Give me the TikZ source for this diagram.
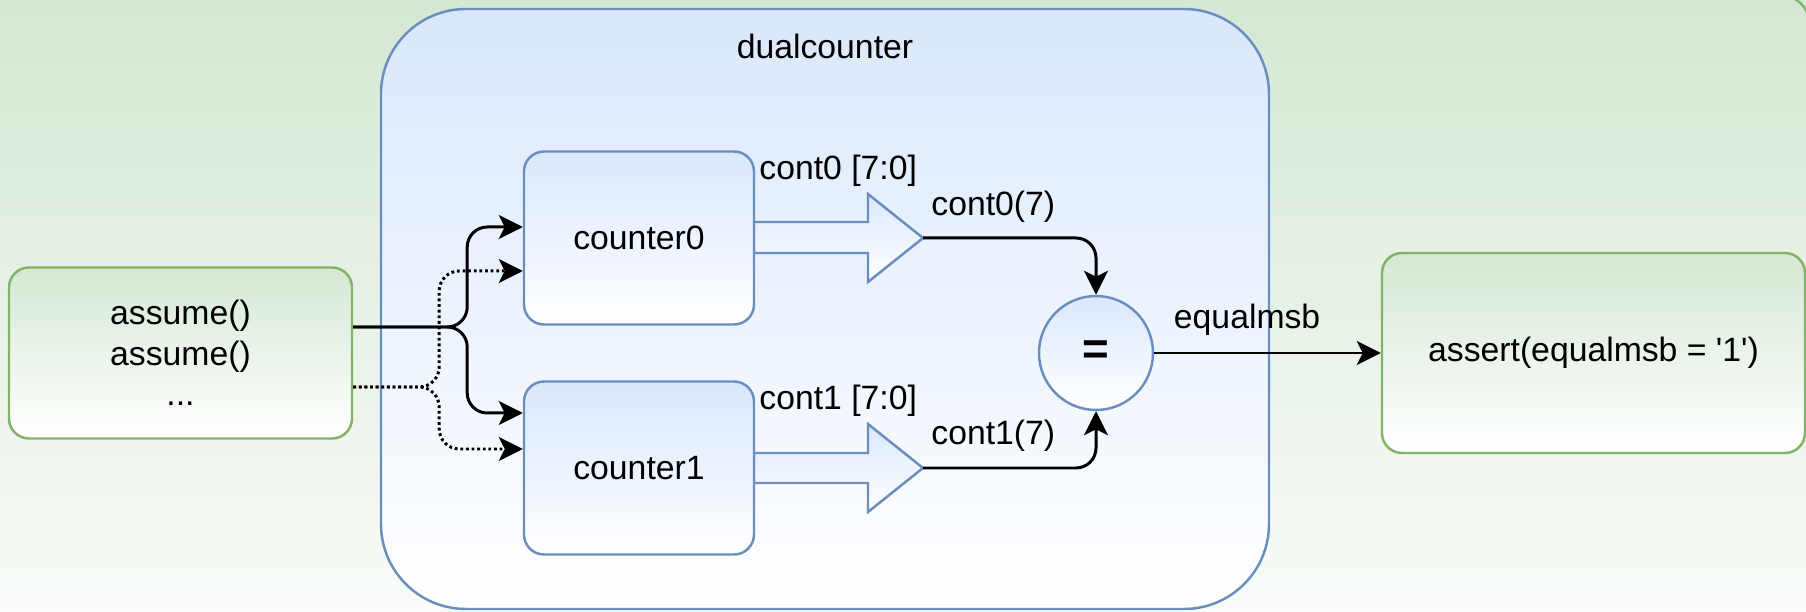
\documentclass[tikz,border=0pt]{standalone}
\usepackage{fontspec}
\setmainfont{Liberation Sans}
\usetikzlibrary{arrows.meta,positioning}
\definecolor{bluefill}{HTML}{DAE8FC}
\definecolor{bluedraw}{HTML}{6C8EBF}
\definecolor{greenfill}{HTML}{D5E8D4}
\definecolor{greendraw}{HTML}{82B366}
\begin{document}
\begin{tikzpicture}[font=\fontsize{9.6pt}{11.6pt}\selectfont,
  outline/.style={draw=#1,line width=0.7pt},
  bluebox/.style={outline=bluedraw,top color=bluefill,bottom color=white,rounded corners=0.2cm},
  greenbox/.style={outline=greendraw,top color=greenfill,bottom color=white,rounded corners=0.2cm},
  wire/.style={line width=0.85pt,rounded corners=0.2cm,-{Stealth[length=2.4mm,width=2.4mm,inset=0.6mm]}},
  dots/.style={wire,dash pattern=on 0.8pt off 0.8pt}]
\useasboundingbox (0,0) rectangle (18.06,6.12);
\path[top color=greenfill,bottom color=greenfill!15] (0,0) rectangle (18.06,6.12);
\draw[outline=greendraw,rounded corners=0.3cm] (-1,-1) rectangle (18.10,6.17);
% dualcounter
\node[bluebox,rounded corners=0.85cm,minimum width=8.88cm,minimum height=6cm] (dual) at (8.25,3.03) {};
\node (dualtitle) at (8.25,5.66) {dualcounter};
% bus arrows
\draw[outline=bluedraw,top color=bluefill,bottom color=white] (7.54,3.90) -- (8.68,3.90) -- (8.68,4.18) -- (9.23,3.74) -- (8.68,3.30) -- (8.68,3.59) -- (7.54,3.59) -- cycle;
\draw[outline=bluedraw,top color=bluefill,bottom color=white] (7.54,1.59) -- (8.68,1.59) -- (8.68,1.88) -- (9.23,1.44) -- (8.68,1.00) -- (8.68,1.29) -- (7.54,1.29) -- cycle;
\coordinate (tip0) at (9.23,3.74);
\coordinate (tip1) at (9.23,1.44);
\node[bluebox,minimum width=2.3cm,minimum height=1.73cm] (counter0) at (6.39,3.74) {counter0};
\node[bluebox,minimum width=2.3cm,minimum height=1.73cm] (counter1) at (6.39,1.44) {counter1};
\node[circle,outline=bluedraw,top color=bluefill,bottom color=white,minimum size=1.14cm,font=\fontsize{13pt}{15pt}\selectfont\bfseries] (eq) at (10.96,2.59) {=};
% environment
\node[greenbox,minimum width=3.43cm,minimum height=1.71cm,align=center] (assume) at (1.805,2.59) {assume()\\assume()\\...};
\node[greenbox,minimum width=4.23cm,minimum height=2cm] (assert) at (15.935,2.59) {assert(equalmsb = \textquotesingle1\textquotesingle)};
% connections
\draw[wire] ([yshift=0.26cm]assume.east) -- ++(1.14,0) |- ([yshift=0.11cm]counter0.west);
\draw[wire] ([yshift=0.26cm]assume.east) -- ++(1.14,0) |- ([yshift=0.55cm]counter1.west);
\draw[dots] ([yshift=-0.34cm]assume.east) -- ++(0.86,0) |- ([yshift=-0.33cm]counter0.west);
\draw[dots] ([yshift=-0.34cm]assume.east) -- ++(0.86,0) |- ([yshift=0.19cm]counter1.west);
\draw[wire] (tip0) -| (eq.north);
\draw[wire] (tip1) -| (eq.south);
\draw[wire] (eq.east) -- node[above,pos=0.41,yshift=0.4mm] (msb) {equalmsb} (assert.west);
\node[anchor=west] (bus0) at (7.47,4.41) {cont0 [7:0]};
\node[anchor=west] (bit0) at (9.19,4.05) {cont0(7)};
\node[anchor=west] (bus1) at (7.47,2.11) {cont1 [7:0]};
\node[anchor=west] (bit1) at (9.19,1.765) {cont1(7)};
\end{tikzpicture}
\end{document}
